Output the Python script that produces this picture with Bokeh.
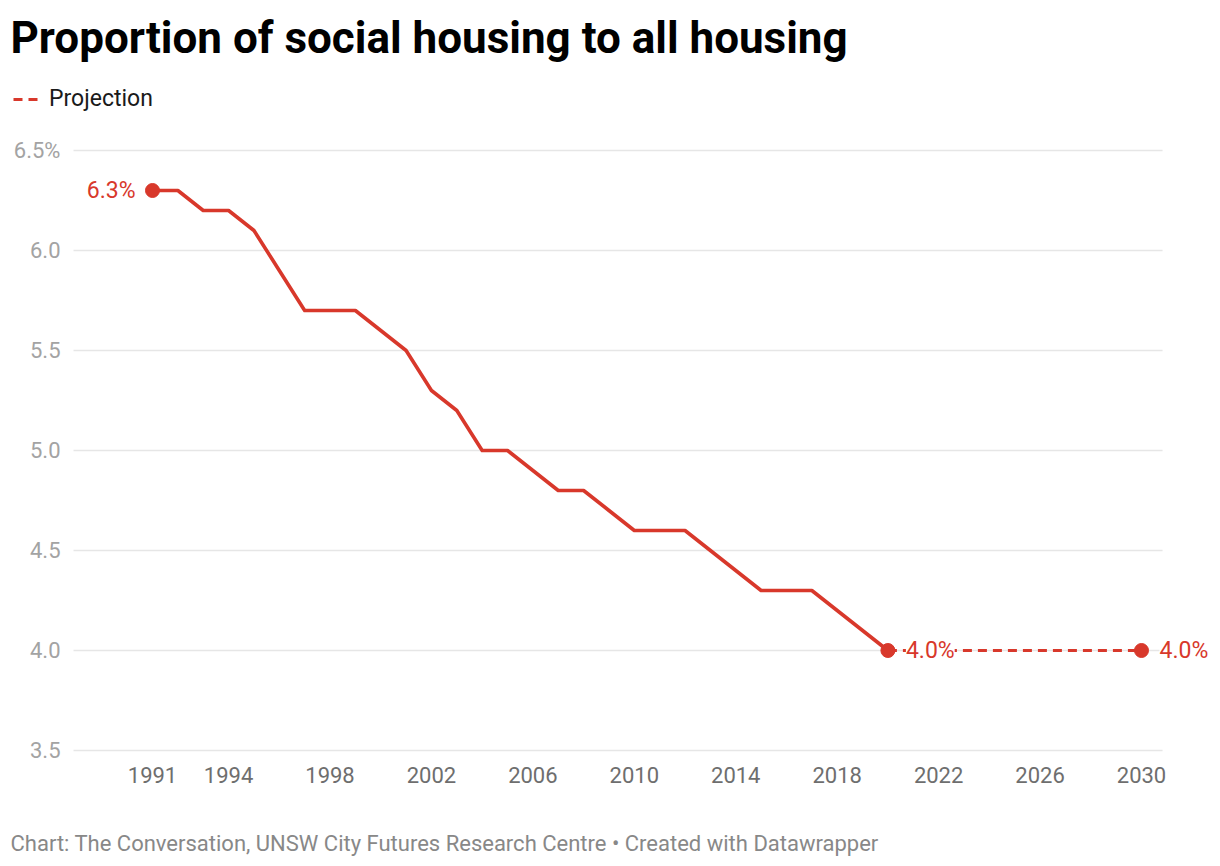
from bokeh.plotting import figure
from bokeh.models import (ColumnDataSource, Range1d, FixedTicker, LabelSet, Label, Title, Legend, LegendItem)
from bokeh.core.properties import value
from bokeh.embed import file_html
from bokeh.resources import INLINE

# ---- data ----
years = list(range(1991, 2021))
share = [6.3, 6.3, 6.2, 6.2, 6.1, 5.9, 5.7, 5.7, 5.7, 5.6, 5.5, 5.3, 5.2, 5.0, 5.0,
         4.9, 4.8, 4.8, 4.7, 4.6, 4.6, 4.6, 4.5, 4.4, 4.3, 4.3, 4.3, 4.2, 4.1, 4.0]
proj_years = [2020, 2030]
proj_share = [4.0, 4.0]
dot_years = [1991, 2020, 2030]
dot_share = [6.3, 4.0, 4.0]
dot_labels = ["6.3%", "4.0%", "4.0%"]
x_ticks = [1991, 1994, 1998, 2002, 2006, 2010, 2014, 2018, 2022, 2026, 2030]
y_ticks = [3.5, 4.0, 4.5, 5.0, 5.5, 6.0, 6.5]
y_tick_labels = ["3.5", "4.0", "4.5", "5.0", "5.5", "6.0", "6.5%"]

RED = "#d8382b"
FONT = "Roboto"
X_START, X_END = 1985.006, 2032.80
GRID_START, GRID_END = 1987.885, 2030.83

p = figure(width=1220, height=866, output_backend="svg", toolbar_location=None,
           x_range=Range1d(X_START, X_END), y_range=Range1d(2.95, 6.89),
           min_border_left=0, min_border_right=8, min_border_top=72, min_border_bottom=6)
p.outline_line_color = None
p.background_fill_color = "white"
p.border_fill_color = "white"

p.xgrid.grid_line_color = None
p.ygrid.grid_line_color = None

p.xaxis.ticker = FixedTicker(ticks=x_ticks)
p.yaxis.ticker = FixedTicker(ticks=y_ticks)
p.yaxis.major_label_overrides = {t: l for t, l in zip(y_ticks, y_tick_labels)}
for ax in (p.xaxis, p.yaxis):
    ax.axis_line_color = None
    ax.major_tick_line_color = None
    ax.minor_tick_line_color = None
    ax.major_tick_out = 0
    ax.major_tick_in = 0
    ax.major_label_text_font = FONT
    ax.major_label_text_font_size = "22px"
p.xaxis.major_label_text_color = "#6e6e6e"
p.yaxis.major_label_text_color = "#a3a3a3"
p.xaxis.major_label_standoff = -94
p.yaxis.major_label_standoff = -60

# horizontal grid lines at the y ticks
p.segment(x0=[GRID_START] * len(y_ticks), x1=[GRID_END] * len(y_ticks), y0=y_ticks, y1=y_ticks,
          line_color="#e6e6e6", line_width=1.5)

src = ColumnDataSource(dict(x=years, y=share))
p.line("x", "y", source=src, line_color=RED, line_width=3.6, line_join="round")
proj = p.line(proj_years, proj_share, line_color=RED, line_width=3.2, line_dash="9 6")

dots = ColumnDataSource(dict(x=dot_years, y=dot_share))
p.scatter("x", "y", source=dots, size=14, color=RED)

lab_left = ColumnDataSource(dict(x=dot_years[:1], y=dot_share[:1], t=dot_labels[:1]))
lab_right = ColumnDataSource(dict(x=dot_years[1:], y=dot_share[1:], t=dot_labels[1:]))
p.add_layout(LabelSet(x="x", y="y", text="t", source=lab_left, x_offset=-17,
                      text_align="right", text_baseline="middle", text_color=RED,
                      text_font=value(FONT), text_font_size=value("23px")))
p.add_layout(LabelSet(x="x", y="y", text="t", source=lab_right, x_offset=18,
                      text_align="left", text_baseline="middle", text_color=RED,
                      text_font=value(FONT), text_font_size=value("23px"),
                      background_fill_color="white"))

legend = Legend(items=[LegendItem(label="Projection", renderers=[proj])],
                location="top_left", orientation="horizontal",
                glyph_width=26, glyph_height=20, label_standoff=10,
                padding=0, margin=13, border_line_color=None, background_fill_alpha=0,
                label_text_font=FONT, label_text_font_size="23px", label_text_color="#1a1a1a")
p.add_layout(legend)

p.add_layout(Title(text="Proportion of social housing to all housing", align="left",
                   offset=10, standoff=18, text_font=FONT, text_font_style="bold",
                   text_font_size="44px", text_color="#000000"), "above")

p.add_layout(Label(x=10, y=17, x_units="screen", y_units="screen",
                   text="Chart: The Conversation, UNSW City Futures Research Centre \u2022 Created with Datawrapper",
                   text_font=FONT, text_font_size="22px", text_color="#888888",
                   text_baseline="alphabetic"))

open("out.html", "w").write(file_html(p, INLINE))
